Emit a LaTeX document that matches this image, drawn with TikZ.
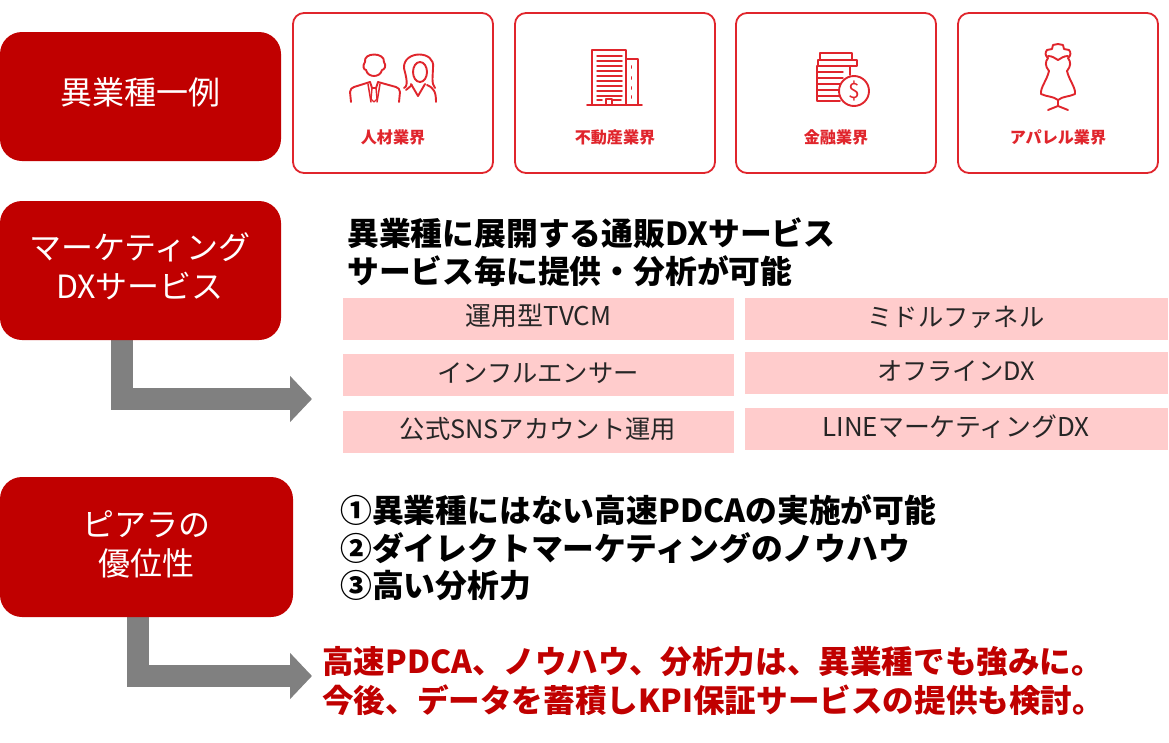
\documentclass[tikz,border=0pt]{standalone}
\usepackage{fontspec}
\setmainfont{Noto Sans CJK JP}
\usetikzlibrary{arrows.meta,calc}
\definecolor{dred}{HTML}{C00000}
\definecolor{cardred}{HTML}{E0252C}
\definecolor{pinkb}{HTML}{FFCCCC}
\definecolor{arrowg}{HTML}{808080}
\tikzset{
  x=1pt,y=-1pt,
  catbox/.style={fill=dred,rounded corners=22pt},
  catlabel/.style={text=white,font=\fontsize{32}{39}\selectfont,align=center,inner sep=0pt},
  card/.style={draw=cardred,line width=1.8pt,rounded corners=11pt,fill=white},
  cardlabel/.style={text=cardred,font=\fontsize{16.1}{18}\selectfont\bfseries,inner sep=0pt},
  pinkbox/.style={fill=pinkb,inner sep=0pt},
  svc/.style={font=\fontsize{25.3}{30}\selectfont,text=black!85,inner sep=0pt},
  svcl/.style={svc,font=\fontsize{25.9}{30}\selectfont},
  heavy/.style={font=\fontsize{31.8}{38}\selectfont\bfseries,inner sep=0pt,anchor=west,align=left},
  heavyr/.style={heavy,text=dred,font=\fontsize{31.6}{38}\selectfont\bfseries},
  bigarrow/.style={draw=arrowg,line width=22pt,line join=miter,-{Triangle[length=22pt,width=45pt]}},
  icon/.style={draw=cardred,line width=1.9pt,line cap=round,line join=round},
}
\newcommand{\rbox}[7]{\path[#1] (#3,#4) rectangle (#5,#6) node[midway,inner sep=0pt] (#2) {#7};}
\begin{document}
\begin{tikzpicture}
\useasboundingbox (0,0) rectangle (1169,742);
% arrows behind boxes
\coordinate (a1s) at (122,335);
\coordinate (a1e) at (312,399);
\coordinate (a2s) at (138,612);
\coordinate (a2e) at (312,676);
\draw[bigarrow] (a1s) |- (a1e);
\draw[bigarrow] (a2s) |- (a2e);
% left category boxes
\rbox{catbox}{b1}{0}{32}{281}{161}{}
\rbox{catbox}{b2}{0}{201}{281}{340}{}
\rbox{catbox}{b3}{0}{477}{293}{617}{}
\node[catlabel] (l1) at (140,92) {異業種一例};
\node[catlabel] (l2) at (140,266) {マーケティング\\DXサービス};
\node[catlabel] (l3) at (146,544) {ピアラの\\優位性};
% cards
\draw[card] (293,13) rectangle (493,173);
\draw[card] (515,13) rectangle (715,173);
\draw[card] (736,13) rectangle (936,173);
\draw[card] (958,13) rectangle (1158,173);
\node[cardlabel] (c1) at (393,137) {人材業界};
\node[cardlabel] (c2) at (615,137) {不動産業界};
\node[cardlabel] (c3) at (836,137) {金融業界};
\node[cardlabel] (c4) at (1058,137) {アパレル業界};
% man
\draw[icon] (365,62) .. controls (363,52) and (385,52) .. (384,62) .. controls (387,66) and (384,70) .. (382,70) .. controls (380,78) and (368,78) .. (366,70) .. controls (364,70) and (362,66) .. (365,62);
\draw[icon] (351,102) -- (350,92) .. controls (350,89) and (352,88) .. (354,87) -- (370,82);
\draw[icon] (399,102) -- (400,92) .. controls (400,89) and (398,88) .. (396,87) -- (378,82);
\draw[icon] (370,82) -- (372,88) -- (376,88) -- (378,82);
\draw[icon,line width=1.4pt] (372,88) -- (371,99) -- (374,102) -- (377,99) -- (376,88);
\draw[icon,line width=1.5pt] (368,84) -- (371,102);
\draw[icon,line width=1.5pt] (380,84) -- (377,102);
% woman
\draw[icon] (404,88) .. controls (410,86) and (404,70) .. (404,68) .. controls (403,50) and (436,50) .. (433,68) .. controls (433,74) and (431,84) .. (435,88);
\draw[icon] (420,72) ellipse (7 and 10);
\draw[icon] (411,84) -- (418,96) -- (425,84);
\draw[icon] (406,90) -- (412,85);
\draw[icon] (427,85) .. controls (434,88) and (436,92) .. (436,102);
% building
\draw[icon,line width=1.7pt] (592,105) -- (592,50) -- (626,50) -- (626,105);
\draw[icon,line width=1.7pt] (626,59) -- (638,59) -- (638,105);
\draw[icon,line width=1.7pt] (587,105) -- (642,105);
\foreach \yy in {56,61,...,96} {\draw[icon,line width=1.5pt] (597,\yy) -- (622,\yy);}
\draw[icon,line width=1.5pt] (597,100) -- (602,100) (612,100) -- (621,100);
\draw[icon,line width=1.5pt] (606,105) -- (606,99) -- (612,99) -- (612,105);
\foreach \yy in {66,77,87,96} {\draw[icon,line width=1.9pt] (631.5,\yy) -- (631.5,\yy+2);}
% coins
\draw[icon] (820,53) rectangle (852,60);
\draw[icon] (818,60) rectangle (857,66);
\draw[icon] (850,75) -- (850,66) -- (817,66) -- (817,101) -- (840,101);
\foreach \yy in {72,78,84,90,96} {\draw[icon,line width=1.4pt] (817,\yy) -- (843,\yy);}
\draw[icon,fill=white] (854,91) circle (15);
\node[text=cardred,inner sep=0pt,font=\fontsize{21}{21}\selectfont] (dollar) at (854,91) {\$};
% dress
\draw[icon] (1058,44) -- (1053,45) -- (1052,49) -- (1047,50) .. controls (1045,52) and (1045,56) .. (1048,58) .. controls (1045,62) and (1045,66) .. (1049,71) .. controls (1047,80) and (1040,88) .. (1041,94) .. controls (1047,97) and (1053,96) .. (1058,100) .. controls (1063,96) and (1069,97) .. (1075,94) .. controls (1076,88) and (1069,80) .. (1067,71) .. controls (1071,66) and (1071,62) .. (1068,58) .. controls (1071,56) and (1071,52) .. (1069,50) -- (1064,49) -- (1063,45) -- cycle;
\draw[icon] (1048,56) .. controls (1052,56) and (1055,58) .. (1058,60) .. controls (1061,58) and (1064,56) .. (1068,56);
\draw[icon] (1058,100) -- (1058,106) (1048,110) -- (1058,106) -- (1068,110);
% heading
\node[heavy] (h1) at (347,233) {異業種に展開する通販DXサービス};
\node[heavy] (h2) at (347,271) {サービス毎に提供・分析が可能};
% service boxes
\rbox{pinkbox}{s1}{343}{298}{734}{340}{}
\rbox{pinkbox}{s2}{343}{354}{734}{396}{}
\rbox{pinkbox}{s3}{343}{411}{734}{453}{}
\rbox{pinkbox}{s4}{745}{298}{1168}{340}{}
\rbox{pinkbox}{s5}{745}{352}{1168}{394}{}
\rbox{pinkbox}{s6}{745}{408}{1168}{450}{}
\node[svcl] (t1) at (538.5,316) {運用型TVCM};
\node[svc] (t2) at (538,373) {インフルエンサー};
\node[svc] (t3) at (538,429) {公式SNSアカウント運用};
\node[svc] (t4) at (956,317) {ミドルファネル};
\node[svc] (t5) at (956,371) {オフラインDX};
\node[svcl] (t6) at (956,427) {LINEマーケティングDX};
% advantages
\node[heavy] (p1) at (340,510) {①異業種にはない高速PDCAの実施が可能};
\node[heavy] (p2) at (340,548) {②ダイレクトマーケティングのノウハウ};
\node[heavy] (p3) at (340,586) {③高い分析力};
\node[heavyr] (r1) at (322,662) {高速PDCA、ノウハウ、分析力は、異業種でも強みに。};
\node[heavyr] (r2) at (322,700) {今後、データを蓄積しKPI保証サービスの提供も検討。};
\end{tikzpicture}
\end{document}
